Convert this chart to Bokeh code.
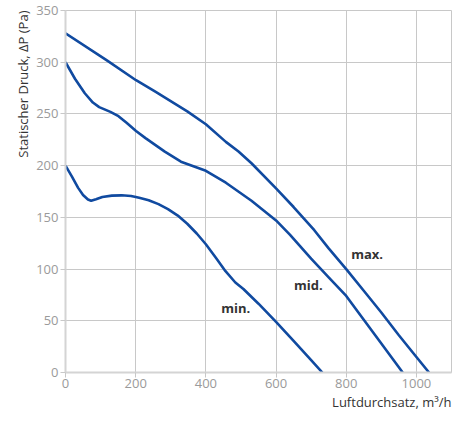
from bokeh.plotting import figure
from bokeh.models import Range1d, FixedTicker, Label, Title
from bokeh.embed import file_html
from bokeh.resources import INLINE

# Data
max_x = [0, 119, 201, 256, 347, 400, 457, 493, 530, 600, 650, 709, 750, 800, 850, 900, 950, 1000, 1036]
max_y = [328, 301.6, 282.6, 271.5, 252.5, 240, 223, 213.6, 202.3, 178, 160, 137.6, 120, 100, 79, 58, 36, 15, 0]

mid_x = [0, 27, 55, 78, 96, 128, 151, 174, 201, 228, 283, 329, 400, 457, 530, 600, 640, 700, 750, 800, 850, 900, 961]
mid_y = [300, 284, 270, 261, 256.6, 252, 247.8, 241.4, 233.5, 226.6, 213.6, 203.8, 195, 183.5, 166, 147, 133, 110, 92, 74, 51, 28, 0]

min_x = [0, 18, 36, 50, 64, 73, 87, 105, 132, 160, 187, 210, 237, 265, 292, 320, 347, 374, 400,
         429, 456, 484, 507, 550, 600, 650, 700, 732]
min_y = [200, 189.6, 178.5, 171.6, 167.2, 166, 167.5, 169.7, 171, 171.3, 170.7, 169, 166.6, 162.8,
         158, 151.7, 143.8, 134.4, 124, 110.7, 98, 87, 80.7, 66.5, 49, 30.5, 12, 0]

series_names = ["max.", "mid.", "min."]
x_ticks = [0, 200, 400, 600, 800, 1000]
y_ticks = [0, 50, 100, 150, 200, 250, 300, 350]
x_title = "Luftdurchsatz, m³/h"
y_title = "Statischer Druck, ΔP (Pa)"

LINE = "#104aa0"
GRID = "#c8c8c8"
TICKLBL = "#9a9a9a"
DARK = "#333333"
FONT = "Open Sans"

p = figure(width=452, height=410, output_backend="svg", toolbar_location=None,
           x_range=Range1d(0, 1100), y_range=Range1d(0, 350),
           min_border_left=65, min_border_right=1, min_border_top=10, min_border_bottom=10)
p.background_fill_color = "white"
p.border_fill_color = "white"
p.outline_line_color = GRID
p.outline_line_width = 1

for ax in (p.xaxis[0], p.yaxis[0]):
    ax.axis_line_color = "#d4d4d4"
    ax.axis_line_width = 2
    ax.major_tick_line_color = GRID
    ax.major_tick_out = 5
    ax.major_tick_in = 0
    ax.minor_tick_line_color = None
    ax.major_label_text_color = TICKLBL
    ax.major_label_text_font = FONT
    ax.major_label_text_font_size = "13px"

p.xaxis[0].ticker = FixedTicker(ticks=x_ticks)
p.yaxis[0].ticker = FixedTicker(ticks=y_ticks)
p.xaxis[0].major_label_standoff = 1
p.yaxis[0].major_label_standoff = 2

p.add_layout(Title(text=x_title, align="right", text_font=FONT, text_font_size="13px",
                   text_font_style="normal", text_color=DARK, standoff=0, offset=0), "below")
p.add_layout(Title(text=y_title, align="right", text_font=FONT, text_font_size="13px",
                   text_font_style="normal", text_color=DARK, standoff=4, offset=0), "left")

p.xgrid.ticker = FixedTicker(ticks=x_ticks)
p.ygrid.ticker = FixedTicker(ticks=y_ticks)
p.xgrid.grid_line_color = GRID
p.ygrid.grid_line_color = GRID
p.xgrid.grid_line_width = 1
p.ygrid.grid_line_width = 1

for xs, ys in ((max_x, max_y), (mid_x, mid_y), (min_x, min_y)):
    p.line(xs, ys, line_color=LINE, line_width=2.6, line_join="round")

for name, (lx, ly) in zip(series_names, [(814, 115), (651, 85), (444, 62)]):
    p.add_layout(Label(x=lx, y=ly, text=name, text_font=FONT, text_font_size="13px",
                       text_font_style="bold", text_color=DARK,
                       text_align="left", text_baseline="middle"))

open("out.html", "w").write(file_html(p, INLINE))
